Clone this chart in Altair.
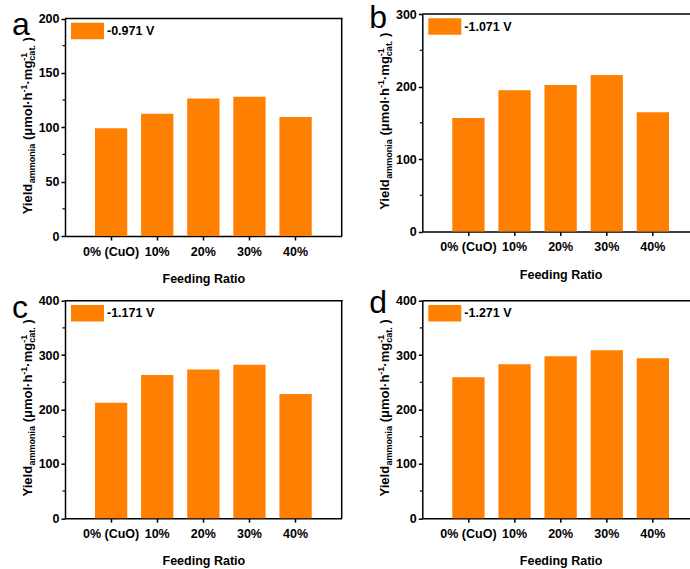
import altair as alt
import pandas as pd

# Feeding ratios (x categories) and ammonia yields at four applied potentials
RATIOS = ["0% (CuO)", "10%", "20%", "30%", "40%"]
POTENTIALS = ["-0.971 V", "-1.071 V", "-1.171 V", "-1.271 V"]
PANEL_LETTERS = ["a", "b", "c", "d"]

YIELD_0971 = [99, 112.5, 126.5, 128, 109.5]
YIELD_1071 = [156.5, 195, 202, 216, 164.5]
YIELD_1171 = [212.5, 263.5, 273.5, 282, 228.5]
YIELD_1271 = [259, 283, 298, 309, 294]

Y_MAX = [200, 300, 400, 400]
Y_MAJOR = [
    [0, 50, 100, 150, 200],
    [0, 100, 200, 300],
    [0, 100, 200, 300, 400],
    [0, 100, 200, 300, 400],
]
Y_MINOR = [
    [25, 75, 125, 175],
    [50, 150, 250],
    [50, 150, 250, 350],
    [50, 150, 250, 350],
]

FONT = "Liberation Sans"
ORANGE = "#FF7F00"
W, H = 276.7, 217.5          # full panel plot size
TOP, LEFT = 14, 65
A_DROP = 4.5                 # panel a sits a little lower than panel b
COL_GAP, ROW_GAP = 80.3, 64.7
PAGE_W = 690
W_RIGHT = PAGE_W - LEFT - W - COL_GAP - 0.5   # right-hand panels are cut by the page edge

PAD_INNER, PAD_OUTER = 0.3, 0.65

# Arial-metric advance widths (per 1000 em) used to set the pieces of the y title
ADV = {"Y": 667, "i": 278, "e": 556, "l": 278, "d": 611, "a": 556, "m": 889,
       "o": 611, "n": 611, "(": 333, ")": 333, "μ": 611, "·": 333,
       "h": 611, "-": 333, "1": 556, "g": 611, "c": 556, "t": 333, ".": 278}


def text_width(s, size):
    return sum(ADV.get(ch, 556) for ch in s) / 1000 * size


def one_row():
    return alt.Data(values=[{}])


def band_scale(width):
    """Band scale that keeps the bar geometry of a full-width panel."""
    n = len(RATIOS)
    step = W / (n - PAD_INNER + 2 * PAD_OUTER)
    if width >= W:
        return alt.Scale(paddingInner=PAD_INNER, paddingOuter=PAD_OUTER)
    outer = (width / step - (n - PAD_INNER)) / 2
    leftover = width - step * (n - PAD_INNER)
    return alt.Scale(paddingInner=PAD_INNER, paddingOuter=outer,
                     align=PAD_OUTER * step / leftover)


def y_title_layers(y0):
    """Yield_ammonia (μmol·h^-1·mg^-1_cat.) built from rotated text pieces."""
    F, S = 13, 9
    base_x = -33
    space = 0.278 * F
    # (pieces drawn at the same position, gap before them)
    groups = [
        ([("Yield", F, 0)], 0),
        ([("ammonia", S, 3)], 0),
        ([("(μmol·h", F, 0)], space),
        ([("-1", S, -5.5)], 0),
        ([("·mg", F, 0)], 0),
        ([("-1", S, -5.5), ("cat.", S, 3)], 0),
        ([(")", F, 0)], space),
    ]
    total = sum(gap + max(text_width(t, sz) for t, sz, _ in g) for g, gap in groups)
    pos = y0 + H / 2 - 1.5 + total / 2
    layers = []
    for g, gap in groups:
        pos -= gap
        for t, sz, shift in g:
            layers.append(
                alt.Chart(one_row())
                .mark_text(angle=270, align="left", baseline="alphabetic",
                           font=FONT, fontSize=sz, fontWeight="bold", color="black")
                .encode(x=alt.value(base_x + shift), y=alt.value(pos), text=alt.value(t))
            )
        pos -= max(text_width(t, sz) for t, sz, _ in g)
    return layers


def border(x, x2, y, y2):
    return alt.Chart(one_row()).mark_rule(color="black", strokeWidth=1.5).encode(
        x=alt.value(x), x2=alt.value(x2), y=alt.value(y), y2=alt.value(y2)
    )


def panel(idx, values, letter_y, legend_y, right_column, y0=0):
    volt = POTENTIALS[idx]
    width = W_RIGHT if right_column else W
    view_h = H + y0
    df = pd.DataFrame({"ratio": RATIOS, "yield": values, "potential": [volt] * len(RATIOS)})
    if y0:
        ysc = alt.Scale(domain=[0, Y_MAX[idx]], nice=False, zero=True, range=[view_h, y0])
    else:
        ysc = alt.Scale(domain=[0, Y_MAX[idx]], nice=False, zero=True)
    yaxis = alt.Axis(
        title=None, values=Y_MAJOR[idx], format="d",
        labelFont=FONT, labelFontSize=12.5, labelFontWeight="bold",
        labelColor="black", labelPadding=2,
        tickSize=4, tickWidth=1.5, tickColor="black",
        domainColor="black", domainWidth=1.5, grid=False,
    )

    bars = alt.Chart(df).mark_bar().encode(
        x=alt.X(
            "ratio:N", sort=RATIOS,
            scale=band_scale(width),
            axis=alt.Axis(
                title="Feeding Ratio", titleFont=FONT, titleFontSize=12.5,
                titleFontWeight="bold", titleColor="black", titlePadding=15,
                titleX=W / 2,
                labelAngle=0, labelFont=FONT, labelFontSize=12.5,
                labelFontWeight="bold", labelColor="black", labelPadding=5,
                tickSize=4, tickWidth=1.5, tickColor="black",
                domainColor="black", domainWidth=1.5, grid=False,
            ),
        ),
        y=alt.Y("yield:Q", scale=ysc, axis=yaxis),
        color=alt.Color(
            "potential:N",
            scale=alt.Scale(domain=[volt], range=[ORANGE]),
            legend=alt.Legend(
                title=None, orient="none", legendX=6, legendY=legend_y,
                symbolType="M-1,-0.5H1V0.5H-1Z", symbolSize=1089,
                symbolStrokeWidth=0, symbolOpacity=1,
                labelFont=FONT, labelFontSize=12.5, labelFontWeight="bold",
                labelColor="black", labelOffset=3, padding=0,
            ),
        ),
    )

    # minor ticks between the labelled ones
    minor = alt.Chart(pd.DataFrame({"yield": Y_MINOR[idx]})).mark_rule(
        color="black", strokeWidth=1.2
    ).encode(y=alt.Y("yield:Q", scale=ysc, axis=yaxis), x=alt.value(-2.5), x2=alt.value(0))

    letter = alt.Chart(one_row()).mark_text(
        font=FONT, fontSize=32, align="left", baseline="alphabetic", color="black"
    ).encode(x=alt.value(-53), y=alt.value(letter_y), text=alt.value(PANEL_LETTERS[idx]))

    # plot frame: top edge always, right edge only where it falls on the page
    frame = [border(0, width + 1, y0, y0)]
    if not right_column:
        frame.append(border(W, W, y0, view_h))

    layers = [bars, minor, letter, *y_title_layers(y0), *frame]
    return alt.layer(*layers).properties(width=width, height=view_h)


pa = panel(0, YIELD_0971, 21, 0.5, False, y0=A_DROP)
pb = panel(1, YIELD_1071, 14, -4, True)
pc = panel(2, YIELD_1171, 17.3, -4, False)
pd_ = panel(3, YIELD_1271, 12.3, -4, True)

chart = (
    alt.concat(pa, pb, pc, pd_, columns=2,
               spacing={"row": ROW_GAP, "column": COL_GAP}, bounds="flush")
    .resolve_scale(color="independent")
    .properties(
        autosize=alt.AutoSizeParams(type="none"),
        padding={"left": LEFT, "top": TOP, "right": PAGE_W - LEFT, "bottom": 569 - TOP},
        background="white",
    )
    .configure_view(stroke="transparent")
)

chart.save("out.html", embed_options={"renderer": "svg", "actions": False})
